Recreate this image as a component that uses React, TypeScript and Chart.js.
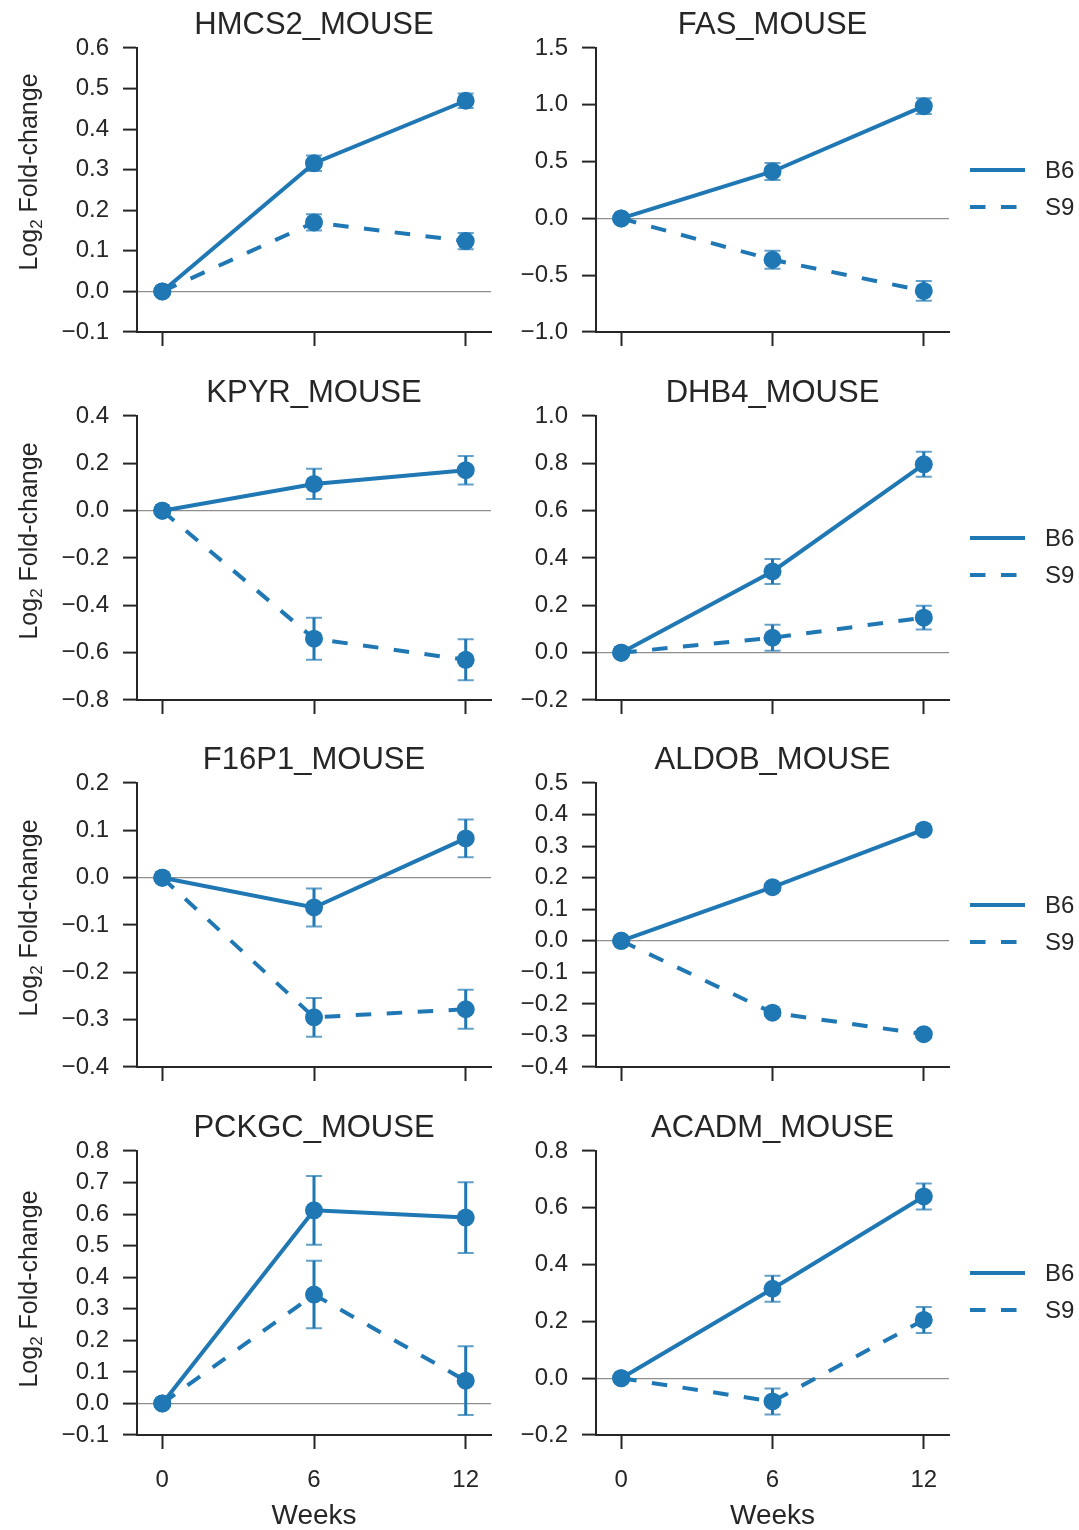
import React, { useEffect, useRef } from 'react';
import { Chart, registerables } from 'chart.js';

Chart.register(...registerables);

// ---- data -------------------------------------------------------------
const WEEKS = [0, 6, 12];
const SERIES = ['B6', 'S9'];

const hmcs2B6 = [0, 0.316, 0.47];
const hmcs2B6Err = [0, 0.019, 0.018];
const hmcs2S9 = [0, 0.17, 0.124];
const hmcs2S9Err = [0, 0.02, 0.02];
const hmcs2Ticks = [-0.1, 0, 0.1, 0.2, 0.3, 0.4, 0.5, 0.6];

const fasB6 = [0, 0.413, 0.988];
const fasB6Err = [0, 0.075, 0.07];
const fasS9 = [0, -0.364, -0.638];
const fasS9Err = [0, 0.08, 0.088];
const fasTicks = [-1.0, -0.5, 0, 0.5, 1.0, 1.5];

const kpyrB6 = [0, 0.113, 0.171];
const kpyrB6Err = [0, 0.064, 0.06];
const kpyrS9 = [0, -0.541, -0.63];
const kpyrS9Err = [0, 0.089, 0.087];
const kpyrTicks = [-0.8, -0.6, -0.4, -0.2, 0, 0.2, 0.4];

const dhb4B6 = [0, 0.343, 0.796];
const dhb4B6Err = [0, 0.053, 0.053];
const dhb4S9 = [0, 0.063, 0.148];
const dhb4S9Err = [0, 0.055, 0.05];
const dhb4Ticks = [-0.2, 0, 0.2, 0.4, 0.6, 0.8, 1.0];

const f16p1B6 = [0, -0.063, 0.083];
const f16p1B6Err = [0, 0.04, 0.04];
const f16p1S9 = [0, -0.295, -0.278];
const f16p1S9Err = [0, 0.041, 0.041];
const f16p1Ticks = [-0.4, -0.3, -0.2, -0.1, 0, 0.1, 0.2];

const aldobB6 = [0, 0.17, 0.352];
const aldobB6Err = [0, 0.01, 0.01];
const aldobS9 = [0, -0.228, -0.296];
const aldobS9Err = [0, 0.01, 0.01];
const aldobTicks = [-0.4, -0.3, -0.2, -0.1, 0, 0.1, 0.2, 0.3, 0.4, 0.5];

const pckgcB6 = [0, 0.612, 0.589];
const pckgcB6Err = [0, 0.109, 0.112];
const pckgcS9 = [0, 0.345, 0.072];
const pckgcS9Err = [0, 0.107, 0.109];
const pckgcTicks = [-0.1, 0, 0.1, 0.2, 0.3, 0.4, 0.5, 0.6, 0.7, 0.8];

const acadmB6 = [0, 0.315, 0.64];
const acadmB6Err = [0, 0.046, 0.046];
const acadmS9 = [0, -0.082, 0.205];
const acadmS9Err = [0, 0.046, 0.046];
const acadmTicks = [-0.2, 0, 0.2, 0.4, 0.6, 0.8];

type Panel = {
  name: string;
  values: number[][];
  errors: number[][];
  ticks: number[];
};

const PANELS: Panel[] = [
  { name: 'HMCS2_MOUSE', values: [hmcs2B6, hmcs2S9], errors: [hmcs2B6Err, hmcs2S9Err], ticks: hmcs2Ticks },
  { name: 'FAS_MOUSE', values: [fasB6, fasS9], errors: [fasB6Err, fasS9Err], ticks: fasTicks },
  { name: 'KPYR_MOUSE', values: [kpyrB6, kpyrS9], errors: [kpyrB6Err, kpyrS9Err], ticks: kpyrTicks },
  { name: 'DHB4_MOUSE', values: [dhb4B6, dhb4S9], errors: [dhb4B6Err, dhb4S9Err], ticks: dhb4Ticks },
  { name: 'F16P1_MOUSE', values: [f16p1B6, f16p1S9], errors: [f16p1B6Err, f16p1S9Err], ticks: f16p1Ticks },
  { name: 'ALDOB_MOUSE', values: [aldobB6, aldobS9], errors: [aldobB6Err, aldobS9Err], ticks: aldobTicks },
  { name: 'PCKGC_MOUSE', values: [pckgcB6, pckgcS9], errors: [pckgcB6Err, pckgcS9Err], ticks: pckgcTicks },
  { name: 'ACADM_MOUSE', values: [acadmB6, acadmS9], errors: [acadmB6Err, acadmS9Err], ticks: acadmTicks },
];

// ---- styling / layout -------------------------------------------------
const FONT = "'Liberation Sans', Arial, Helvetica, sans-serif";
const INK = '#262626';
const BLUE = '#1f77b4';
const CAP_BLUE = 'rgba(31,119,180,0.7)';
const DASH = [15.5, 15.5];

const PAGE_W = 1079;
const PAGE_H = 1530;
const PLOT_TOPS = [48, 416, 783, 1151];
const PLOT_H = 284;
const COL_CANVAS_LEFT = [0, 500];
const COL_CANVAS_W = [540, 579];
const COL_PLOT_LEFT = [137, 596];
const COL_PLOT_RIGHT = [491, 949];
const TITLE_BLOCK = 48;
// vertical nudge of the rotated y label, per row
const YLABEL_SHIFT = [-18, -17, -7, -4];

const fmtTick = (v: number) => {
  const s = (Math.abs(v) < 1e-9 ? 0 : v).toFixed(1);
  return s.replace('-', '\u2212');
};

function PanelChart({ panel, row, col }: { panel: Panel; row: number; col: number }) {
  const ref = useRef<HTMLCanvasElement | null>(null);
  const left = COL_CANVAS_LEFT[col];
  const width = COL_CANVAS_W[col];
  const top = PLOT_TOPS[row] - TITLE_BLOCK;
  const height = row === 3 ? PAGE_H - top : 367;
  const isBottom = row === 3;

  useEffect(() => {
    const canvas = ref.current;
    if (!canvas) return;

    const errorBars = {
      id: 'errorBars',
      beforeDatasetsDraw(chart: any) {
        const { ctx } = chart;
        const xs = chart.scales.x;
        const ys = chart.scales.y;
        ctx.save();
        panel.values.forEach((vals, si) => {
          const errs = panel.errors[si];
          WEEKS.forEach((w, i) => {
            const e = errs[i];
            if (!e) return;
            const px = xs.getPixelForValue(w);
            const y1 = ys.getPixelForValue(vals[i] + e);
            const y2 = ys.getPixelForValue(vals[i] - e);
            ctx.strokeStyle = BLUE;
            ctx.lineWidth = 3;
            ctx.setLineDash([]);
            ctx.beginPath();
            ctx.moveTo(px, y1);
            ctx.lineTo(px, y2);
            ctx.stroke();
            ctx.strokeStyle = CAP_BLUE;
            ctx.lineWidth = 2;
            ctx.beginPath();
            ctx.moveTo(px - 8, y1);
            ctx.lineTo(px + 8, y1);
            ctx.moveTo(px - 8, y2);
            ctx.lineTo(px + 8, y2);
            ctx.stroke();
          });
        });
        ctx.restore();
      },
    };

    const decorations = {
      id: 'decorations',
      afterDraw(chart: any) {
        const { ctx, chartArea } = chart;
        const midY = (chartArea.top + chartArea.bottom) / 2;
        ctx.save();
        ctx.fillStyle = INK;
        if (col === 0) {
          // rotated axis label with a subscript "2"
          const big = `25px ${FONT}`;
          const small = `17px ${FONT}`;
          ctx.font = big;
          const w1 = ctx.measureText('Log').width;
          const w3 = ctx.measureText(' Fold-change').width;
          ctx.font = small;
          const w2 = ctx.measureText('2').width;
          const total = w1 + w2 + w3;
          ctx.translate(36.5, midY + YLABEL_SHIFT[row]);
          ctx.rotate(-Math.PI / 2);
          ctx.textBaseline = 'alphabetic';
          ctx.textAlign = 'left';
          let x0 = -total / 2;
          ctx.font = big;
          ctx.fillText('Log', x0, 0);
          x0 += w1;
          ctx.font = small;
          ctx.fillText('2', x0, 5.5);
          x0 += w2;
          ctx.font = big;
          ctx.fillText(' Fold-change', x0, 0);
        } else {
          // legend to the right of the plot
          const lx0 = chartArea.right + 21;
          const lx1 = chartArea.right + 76;
          const tx = chartArea.right + 96;
          const ys = [midY - 20, midY + 17];
          SERIES.forEach((name, i) => {
            ctx.strokeStyle = BLUE;
            ctx.lineWidth = 4;
            ctx.lineCap = 'butt';
            ctx.setLineDash(i === 1 ? DASH : []);
            ctx.beginPath();
            ctx.moveTo(lx0, ys[i]);
            ctx.lineTo(lx1, ys[i]);
            ctx.stroke();
            ctx.setLineDash([]);
            ctx.font = `24px ${FONT}`;
            ctx.textAlign = 'left';
            ctx.textBaseline = 'middle';
            ctx.fillStyle = INK;
            ctx.fillText(name, tx, ys[i] + 1);
          });
        }
        ctx.restore();
      },
    };

    const datasets = panel.values.map((vals, si) => ({
      label: SERIES[si],
      data: WEEKS.map((w, i) => ({ x: w, y: vals[i] })),
      borderColor: BLUE,
      backgroundColor: BLUE,
      pointBackgroundColor: BLUE,
      pointBorderWidth: 0,
      pointRadius: 9,
      borderWidth: 4,
      borderCapStyle: 'butt' as const,
      borderDash: si === 1 ? DASH : [],
      tension: 0,
      fill: false,
      clip: false as const,
    }));

    const ticks = panel.ticks;
    const chart = new Chart(canvas, {
      type: 'line',
      data: { datasets },
      plugins: [errorBars, decorations],
      options: {
        responsive: false,
        maintainAspectRatio: false,
        animation: false,
        devicePixelRatio: 1,
        layout: {
          padding: {
            left: 0,
            top: 0,
            bottom: 0,
            right: width - (COL_PLOT_RIGHT[col] - left),
          },
        },
        plugins: {
          legend: { display: false },
          tooltip: { enabled: false },
          title: {
            display: true,
            text: panel.name,
            fullSize: false,
            color: INK,
            font: { family: FONT, size: 31, weight: 'normal', lineHeight: 1.2 },
            padding: { top: 7, bottom: 3.8 },
          },
        },
        scales: {
          x: {
            type: 'linear',
            min: -1,
            max: 13,
            afterBuildTicks: (s: any) => {
              s.ticks = WEEKS.map((v) => ({ value: v }));
            },
            afterFit: (s: any) => {
              s.height = height - TITLE_BLOCK - PLOT_H;
            },
            grid: {
              drawOnChartArea: false,
              drawTicks: true,
              tickLength: 14,
              tickWidth: 2,
              tickColor: INK,
              color: 'rgba(0,0,0,0)',
            },
            border: { display: true, color: INK, width: 2 },
            ticks: {
              display: isBottom,
              autoSkip: false,
              maxRotation: 0,
              padding: 17,
              color: INK,
              font: { family: FONT, size: 24 },
              callback: (v: any) => String(v),
            },
            title: {
              display: isBottom,
              text: 'Weeks',
              color: INK,
              font: { family: FONT, size: 28, lineHeight: 1.0 },
              padding: { top: 0, bottom: 0 },
            },
          },
          y: {
            type: 'linear',
            min: ticks[0],
            max: ticks[ticks.length - 1],
            afterBuildTicks: (s: any) => {
              s.ticks = ticks.map((v) => ({ value: v }));
            },
            afterFit: (s: any) => {
              s.width = COL_PLOT_LEFT[col] - left;
            },
            grid: {
              drawOnChartArea: true,
              drawTicks: true,
              tickLength: 14,
              tickWidth: 2,
              tickColor: INK,
              lineWidth: 1.2,
              color: (c: any) =>
                c.tick && Math.abs(c.tick.value) < 1e-9 ? '#8e8e8e' : 'rgba(0,0,0,0)',
            },
            border: { display: true, color: INK, width: 2 },
            ticks: {
              autoSkip: false,
              padding: 14,
              color: INK,
              font: { family: FONT, size: 24 },
              callback: (v: any) => fmtTick(Number(v)),
            },
          },
        },
      } as any,
    });

    return () => chart.destroy();
  }, [panel, row, col, width, height, left]);

  return (
    <canvas
      ref={ref}
      width={width}
      height={height}
      style={{ position: 'absolute', left, top, width, height }}
    />
  );
}

export default function App() {
  return (
    <div
      style={{
        position: 'absolute',
        left: 0,
        top: 0,
        width: PAGE_W,
        height: PAGE_H,
        background: '#ffffff',
        overflow: 'hidden',
      }}
    >
      {PANELS.map((p, i) => (
        <PanelChart key={p.name} panel={p} row={Math.floor(i / 2)} col={i % 2} />
      ))}
    </div>
  );
}
